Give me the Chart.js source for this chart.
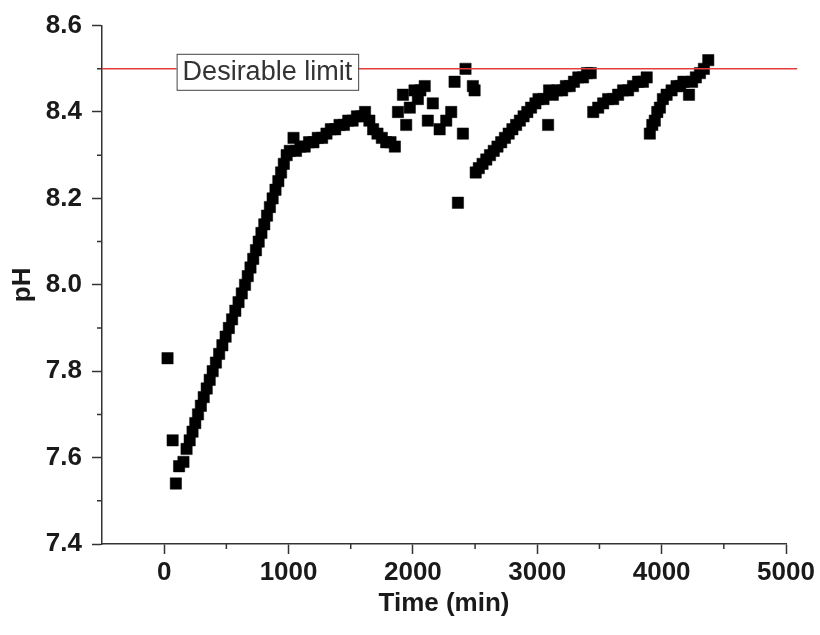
<!DOCTYPE html>
<html>
<head>
<meta charset="utf-8">
<title>pH vs time</title>
<script src="https://cdn.jsdelivr.net/npm/chart.js@4.4.1/dist/chart.umd.min.js"></script>
<style>
  html, body { margin: 0; padding: 0; background: #fff; }
  #wrap { width: 820px; height: 635px; position: relative; }
</style>
</head>
<body>
<div id="wrap"><canvas id="phChart"></canvas></div>
<script>
// ================= DATA =================

const timeMin = [
  27, 68, 94, 120, 155,
  180, 205, 228, 250, 272, 295, 318, 342, 366, 390, 416, 442, 468, 494, 520, 546, 572, 598,
  624, 650, 672, 694, 716, 738, 760, 782, 805, 827, 850, 872, 895, 918, 940, 962, 985, 1010, 1040,
  1060, 1095, 1130, 1165, 1200, 1235, 1270, 1305, 1340, 1375, 1410, 1445, 1480, 1515, 1550, 1585, 1615,
  1650, 1680, 1715, 1750, 1785, 1820, 1855,
  1880, 1920, 1946, 1975, 2013, 2040, 2060, 2095, 2120, 2160, 2215, 2268, 2308, 2335, 2362, 2402, 2423, 2482, 2496,
  2505, 2530, 2560, 2590, 2620, 2650, 2680, 2710, 2740, 2770, 2800, 2830, 2860, 2890, 2920, 2950, 2985,
  3010, 3050, 3087, 3095, 3125, 3160, 3200, 3230, 3261, 3295, 3330, 3368, 3400, 3430,
  3450, 3490, 3530, 3570, 3610, 3650, 3690, 3730, 3770, 3810, 3850, 3880,
  3905, 3925, 3945, 3965, 3986, 4010, 4040, 4080, 4120, 4150, 4175, 4220, 4245, 4275, 4308, 4340, 4375
];

const phValue = [
  7.83, 7.64, 7.54, 7.58, 7.59,
  7.62, 7.64, 7.66, 7.68, 7.70, 7.72, 7.74, 7.76, 7.78, 7.80, 7.82, 7.84, 7.86, 7.88, 7.90, 7.92, 7.94, 7.96,
  7.98, 8.00, 8.02, 8.04, 8.06, 8.08, 8.10, 8.12, 8.14, 8.16, 8.18, 8.20, 8.22, 8.24, 8.26, 8.28, 8.30, 8.31, 8.34,
  8.31, 8.32, 8.32, 8.33, 8.33, 8.34, 8.34, 8.35, 8.36, 8.36, 8.37, 8.37, 8.38, 8.38, 8.39, 8.39, 8.40,
  8.38, 8.36, 8.35, 8.34, 8.33, 8.33, 8.32,
  8.40, 8.44, 8.37, 8.41, 8.45, 8.43, 8.45, 8.46, 8.38, 8.42, 8.36, 8.38, 8.40, 8.47, 8.19, 8.35, 8.50, 8.46, 8.45,
  8.26, 8.27, 8.28, 8.29, 8.30, 8.31, 8.32, 8.33, 8.34, 8.35, 8.36, 8.37, 8.38, 8.39, 8.40, 8.41, 8.42,
  8.43, 8.43, 8.37, 8.45, 8.44, 8.45, 8.45, 8.46, 8.46, 8.47, 8.48, 8.48, 8.49, 8.49,
  8.40, 8.41, 8.42, 8.43, 8.43, 8.44, 8.45, 8.45, 8.46, 8.47, 8.47, 8.48,
  8.35, 8.37, 8.38, 8.40, 8.41, 8.43, 8.44, 8.45, 8.46, 8.46, 8.47, 8.44, 8.47, 8.48, 8.49, 8.50, 8.52
];

const limitPH = 8.5;
const limitLabel = "Desirable limit";
const limitSpan = [-500, 5090];

const xTickValues = [0, 1000, 2000, 3000, 4000, 5000];
const xMinorTicks = [500, 1500, 2500, 3500, 4500];
const yTickValues = [7.4, 7.6, 7.8, 8.0, 8.2, 8.4, 8.6];
const yMinorTicks = [7.5, 7.7, 7.9, 8.1, 8.3, 8.5];


// ================= CHART =================

const FONT = "'Liberation Sans', Arial, sans-serif";
const INK = "#1a1a1a";
const AXIS = "#333";

const points = timeMin.map((t, i) => ({ x: t, y: phValue[i] }));
const limitLine = limitSpan.map(t => ({ x: t, y: limitPH }));

// minor ticks + the "Desirable limit" box
const extras = {
  id: "extras",
  afterDraw(chart) {
    const ctx = chart.ctx;
    const xs = chart.scales.x;
    const ys = chart.scales.y;

    ctx.save();
    ctx.strokeStyle = AXIS;
    ctx.lineWidth = 1.5;
    ctx.beginPath();
    xMinorTicks.forEach(v => {
      const px = xs.getPixelForValue(v);
      ctx.moveTo(px, xs.top);
      ctx.lineTo(px, xs.top + 5);
    });
    yMinorTicks.forEach(v => {
      const py = ys.getPixelForValue(v);
      ctx.moveTo(ys.right, py);
      ctx.lineTo(ys.right - 5, py);
    });
    ctx.stroke();

    ctx.font = "27px " + FONT;
    const w = ctx.measureText(limitLabel).width + 12;
    const h = 36;
    const bx = xs.getPixelForValue(100);
    const by = ys.getPixelForValue(limitPH) + 3 - h / 2;
    ctx.fillStyle = "#fff";
    ctx.fillRect(bx, by, w, h);
    ctx.strokeStyle = "#444";
    ctx.lineWidth = 1;
    ctx.strokeRect(bx + 0.5, by + 0.5, w, h);
    ctx.fillStyle = "#333";
    ctx.textBaseline = "middle";
    ctx.textAlign = "left";
    ctx.fillText(limitLabel, bx + 6, by + h / 2 + 1);
    ctx.restore();
  }
};

new Chart(document.getElementById("phChart"), {
  type: "scatter",
  data: {
    datasets: [
      {
        label: "Limit",
        type: "line",
        data: limitLine,
        borderColor: "rgb(228,62,60)",
        borderWidth: 1.5,
        pointRadius: 0,
        clip: false,
        order: 0
      },
      {
        label: "pH",
        data: points,
        pointStyle: "rect",
        pointRadius: 8,
        backgroundColor: "#000",
        borderColor: "#000",
        borderWidth: 0.5,
        order: 1
      }
    ]
  },
  options: {
    responsive: true,
    maintainAspectRatio: false,
    animation: false,
    layout: { padding: { top: 24, right: 34, left: 0, bottom: 0 } },
    plugins: {
      legend: { display: false },
      tooltip: { enabled: false }
    },
    scales: {
      x: {
        type: "linear",
        min: -500,
        max: 5000,
        afterBuildTicks: s => { s.ticks = xTickValues.map(v => ({ value: v })); },
        afterFit: s => { s.height = 91; },
        grid: { drawOnChartArea: false, drawTicks: true, tickLength: 10, tickColor: AXIS, tickWidth: 1.5 },
        border: { display: true, color: AXIS, width: 1.5 },
        ticks: {
          color: INK,
          padding: 3,
          maxRotation: 0,
          autoSkip: false,
          font: { family: FONT, size: 26, weight: "bold" },
          callback: v => String(v)
        },
        title: {
          display: true,
          text: "Time (min)",
          color: INK,
          font: { family: FONT, size: 26, weight: "bold" },
          padding: { top: 0, bottom: 16 }
        }
      },
      y: {
        type: "linear",
        min: 7.4,
        max: 8.6,
        afterBuildTicks: s => { s.ticks = yTickValues.map(v => ({ value: v })); },
        afterFit: s => { s.width = 102; },
        grid: { drawOnChartArea: false, drawTicks: true, tickLength: 10, tickColor: AXIS, tickWidth: 1.5 },
        border: { display: true, color: AXIS, width: 1.5 },
        ticks: {
          color: INK,
          padding: 10,
          font: { family: FONT, size: 26, weight: "bold" },
          callback: v => v.toFixed(1)
        },
        title: {
          display: true,
          text: "pH",
          color: INK,
          font: { family: FONT, size: 26, weight: "bold" },
          padding: { top: 7, bottom: 0 }
        }
      }
    }
  },
  plugins: [extras]
});
</script>
</body>
</html>
